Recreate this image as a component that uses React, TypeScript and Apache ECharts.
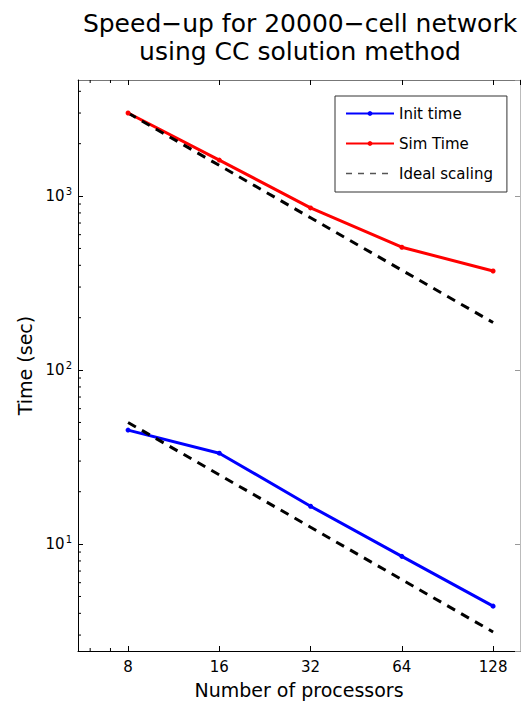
import React, { useEffect, useRef } from 'react';
import * as echarts from 'echarts';

const processors = [8, 16, 32, 64, 128];
const initTime = [45.2, 33.3, 16.5, 8.5, 4.4];
const simTime = [3000, 1610, 855, 508, 371];
const idealInit = [50, 25, 12.5, 6.25, 3.125];
const idealSim = [3000, 1500, 750, 375, 187.5];
const yMinorTicks = [3, 4, 5, 6, 7, 8, 9, 20, 30, 40, 50, 60, 70, 80, 90, 200, 300, 400, 500, 600, 700, 800, 900, 2000, 3000, 4000];
const xMinorTicks = [6, 7];
const titleLines = ['Speed\u2212up for 20000\u2212cell network', 'using CC solution method'];

const X_MIN = 5.47;
const X_MAX = 157;
const Y_MIN = 2.43;
const Y_MAX = 4645;
const FONT = 'DejaVu Sans';

export default function App() {
  const ref = useRef<HTMLDivElement>(null);
  useEffect(() => {
    if (!ref.current) return;
    const chart = echarts.init(ref.current, null, { renderer: 'svg' });
    const pairs = (ys: number[]) => processors.map((p, i) => [p, ys[i]]);
    const tickFmt = (v: number) => {
      const l = Math.log10(v);
      const e = Math.round(l);
      if (Math.abs(l - e) > 1e-6) return '';
      return `{b|10}{s|${e}}`;
    };
    const xFmt = (v: number) => {
      const l = Math.log2(v);
      const e = Math.round(l);
      if (Math.abs(l - e) > 1e-6) return '';
      return String(Math.round(v));
    };
    chart.setOption({
      animation: false,
      backgroundColor: '#fff',
      graphic: [
        {
          type: 'text', x: 300, y: 23,
          style: { text: titleLines[0], textAlign: 'center', textVerticalAlign: 'middle', fontSize: 25, fontFamily: FONT, fill: '#000' },
        },
        {
          type: 'text', x: 300, y: 51,
          style: { text: titleLines[1], textAlign: 'center', textVerticalAlign: 'middle', fontSize: 25, fontFamily: FONT, fill: '#000' },
        },
      ],
      grid: { left: 78, top: 80, width: 442, height: 571, containLabel: false },
      legend: {
        orient: 'vertical',
        left: 335,
        top: 96,
        padding: [10, 14, 11, 10],
        itemWidth: 48,
        itemHeight: 6,
        itemGap: 15,
        borderColor: '#333',
        borderWidth: 1,
        backgroundColor: '#fff',
        textStyle: { fontSize: 15, fontFamily: FONT, color: '#000' },
        data: [
          { name: 'Init time' },
          { name: 'Sim Time' },
          { name: 'Ideal scaling', itemStyle: { opacity: 0 }, lineStyle: { width: 1.5, color: '#555', type: [6, 6] } },
        ],
      },
      xAxis: [
        {
          type: 'log', logBase: 2, min: X_MIN, max: X_MAX, position: 'bottom',
          name: 'Number of processors', nameLocation: 'middle', nameGap: 29,
          nameTextStyle: { fontSize: 19, fontFamily: FONT, color: '#000' },
          axisLine: { lineStyle: { color: '#000', width: 1 } },
          axisTick: { inside: true, length: 5, lineStyle: { color: '#000' } },
          axisLabel: { formatter: xFmt, fontSize: 15, fontFamily: FONT, color: '#000', margin: 8, showMinLabel: false, showMaxLabel: false },
          splitLine: { show: false },
        },
        {
          type: 'log', logBase: 2, min: X_MIN, max: X_MAX, position: 'top',
          axisLine: { lineStyle: { color: '#777', width: 1 } },
          axisTick: { inside: true, length: 5, lineStyle: { color: '#000' } },
          axisLabel: { show: false },
          splitLine: { show: false },
        },
      ],
      yAxis: [
        {
          type: 'log', logBase: 10, min: Y_MIN, max: Y_MAX, position: 'left',
          name: 'Time (sec)', nameLocation: 'middle', nameGap: 40,
          nameTextStyle: { fontSize: 19, fontFamily: FONT, color: '#000' },
          axisLine: { lineStyle: { color: '#000', width: 1 } },
          axisTick: { inside: true, length: 5, lineStyle: { color: '#000' } },
          axisLabel: {
            formatter: tickFmt, margin: 6, showMinLabel: false, showMaxLabel: false,
            rich: {
              b: { fontSize: 15, fontFamily: FONT, color: '#000' },
              s: { fontSize: 10, fontFamily: FONT, color: '#000', padding: [0, 0, 10, 1] },
            },
          },
          splitLine: { show: false },
        },
        {
          type: 'log', logBase: 10, min: Y_MIN, max: Y_MAX, position: 'right',
          axisLine: { lineStyle: { color: '#bbb', width: 1 } },
          axisTick: { inside: true, length: 5, lineStyle: { color: '#999' } },
          axisLabel: { show: false },
          splitLine: { show: false },
        },
      ],
      series: [
        {
          name: 'Init time', type: 'line', data: pairs(initTime),
          color: '#0000ff', lineStyle: { width: 3, color: '#0000ff' },
          symbol: 'circle', symbolSize: 5, itemStyle: { color: '#0000ff' },
        },
        {
          name: 'Sim Time', type: 'line', data: pairs(simTime),
          color: '#ff0000', lineStyle: { width: 3, color: '#ff0000' },
          symbol: 'circle', symbolSize: 5, itemStyle: { color: '#ff0000' },
        },
        {
          name: 'Ideal scaling', type: 'line', data: pairs(idealInit),
          color: '#000', lineStyle: { width: 3, color: '#000', type: [9, 7] }, symbol: 'none',
        },
        {
          name: 'Ideal scaling', type: 'line', data: pairs(idealSim),
          color: '#000', lineStyle: { width: 3, color: '#000', type: [9, 7] }, symbol: 'none',
        },
        {
          name: 'yMinor', type: 'custom', silent: true,
          data: yMinorTicks.map((v) => [X_MIN, v]),
          renderItem: (params: any, api: any) => {
            const p = api.coord([X_MIN, api.value(1)]);
            return { type: 'line', shape: { x1: p[0], y1: p[1], x2: p[0] + 3, y2: p[1] }, style: { stroke: '#000', lineWidth: 1 } };
          },
        },
        {
          name: 'xMinor', type: 'custom', silent: true,
          data: xMinorTicks.map((v) => [v, Y_MIN]),
          renderItem: (params: any, api: any) => {
            const p = api.coord([api.value(0), Y_MIN]);
            const q = api.coord([api.value(0), Y_MAX]);
            return {
              type: 'group',
              children: [
                { type: 'line', shape: { x1: p[0], y1: p[1], x2: p[0], y2: p[1] - 3 }, style: { stroke: '#000', lineWidth: 1 } },
                { type: 'line', shape: { x1: q[0], y1: q[1], x2: q[0], y2: q[1] + 3 }, style: { stroke: '#000', lineWidth: 1 } },
              ],
            };
          },
        },
      ],
    });
    return () => chart.dispose();
  }, []);
  return <div ref={ref} style={{ position: 'absolute', left: 0, top: 0, width: 522, height: 704 }} />;
}
